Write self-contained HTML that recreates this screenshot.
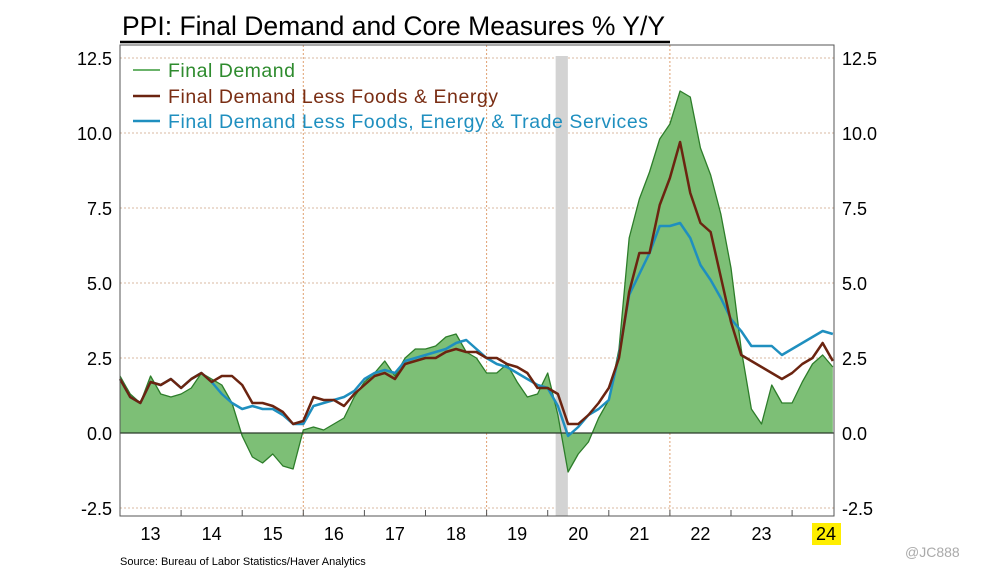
<!DOCTYPE html>
<html><head><meta charset="utf-8"><style>
body{margin:0;background:#fff;width:997px;height:575px;overflow:hidden;font-family:"Liberation Sans",sans-serif}
svg{position:absolute;left:0;top:0}
</style></head><body>
<svg id="c" width="997" height="575">
<text x="122" y="35" font-size="26.5" fill="#000">PPI: Final Demand and Core Measures % Y/Y</text>
<line x1="120" y1="42" x2="670" y2="42" stroke="#000" stroke-width="2.5"/>
<g id="grid"></g><g id="series"></g><g id="axes"></g>
<g font-size="19.5">
<line x1="133" y1="70" x2="160" y2="70" stroke="#3a9a3a" stroke-width="1.5"/>
<text x="168" y="77" fill="#2e8b2e" textLength="127">Final Demand</text>
<line x1="133" y1="96" x2="160" y2="96" stroke="#6b2410" stroke-width="2.5"/>
<text x="168" y="103" fill="#7a2e14" textLength="330">Final Demand Less Foods &amp; Energy</text>
<line x1="133" y1="121" x2="160" y2="121" stroke="#1f8fbf" stroke-width="2.5"/>
<text x="168" y="128" fill="#1f8fbf" textLength="480">Final Demand Less Foods, Energy &amp; Trade Services</text>
</g>
<text x="120" y="565" font-size="11" fill="#000">Source:  Bureau of Labor Statistics/Haver Analytics</text>
<text x="905" y="557" font-size="14" fill="#aaa">@JC888</text>
</svg>
<script>
const startYear = 2013;
const stepYears = 1/6;
const finalDemand = [1.9,1.3,1.0,1.9,1.3,1.2, 1.3,1.5,2.0,1.8,1.6,1.0, -0.1,-0.8,-1.0,-0.7,-1.1,-1.2, 0.1,0.2,0.1,0.3,0.5,1.2, 1.7,2.0,2.4,1.9,2.5,2.8, 2.8,2.9,3.2,3.3,2.7,2.5, 2.0,2.0,2.3,1.7,1.2,1.3, 2.0,0.6,-1.3,-0.7,-0.3,0.5, 1.1,2.8,6.5,7.8,8.7,9.8, 10.3,11.4,11.2,9.5,8.6,7.3, 5.5,2.8,0.8,0.3,1.6,1.0, 1.0,1.7,2.3,2.6,2.2];
const lessFoodEnergy = [1.8,1.2,1.0,1.7,1.6,1.8, 1.5,1.8,2.0,1.7,1.9,1.9, 1.6,1.0,1.0,0.9,0.7,0.3, 0.4,1.2,1.1,1.1,0.9,1.3, 1.6,1.9,2.0,1.8,2.3,2.4, 2.5,2.5,2.7,2.8,2.7,2.7, 2.5,2.5,2.3,2.2,2.0,1.5, 1.5,1.3,0.3,0.3,0.6,1.0, 1.5,2.5,4.7,6.0,6.0,7.6, 8.5,9.7,8.0,7.0,6.7,5.2, 3.7,2.6,2.4,2.2,2.0,1.8, 2.0,2.3,2.5,3.0,2.4];
const lessTrade = [1.8,1.2,1.0,1.7,1.6,1.8, 1.5,1.8,2.0,1.7,1.3,1.0, 0.8,0.9,0.8,0.8,0.6,0.3, 0.3,0.9,1.0,1.1,1.2,1.4, 1.8,2.0,2.1,2.0,2.4,2.5, 2.6,2.7,2.8,3.0,3.1,2.8, 2.5,2.3,2.2,2.0,1.8,1.6, 1.5,0.9,-0.1,0.2,0.6,0.8, 1.1,2.6,4.6,5.3,6.0,6.9, 6.9,7.0,6.5,5.6,5.1,4.5, 3.8,3.4,2.9,2.9,2.9,2.6, 2.8,3.0,3.2,3.4,3.3];
const yTicks = [12.5,10.0,7.5,5.0,2.5,0.0,-2.5];
const yearLabels = ["13","14","15","16","17","18","19","20","21","22","23","24"];
const gridYears = [2016,2019,2022];
const recession = [2020.13,2020.33];

const NS="http://www.w3.org/2000/svg";
const X0=120, X1=834, YW=61.1;
const x=t=>X0+(t-2013)*YW;
const y=v=>433-v*30;
function mk(tag,attrs,parent){const e=document.createElementNS(NS,tag);for(const k in attrs)e.setAttribute(k,attrs[k]);parent.appendChild(e);return e;}
const grid=document.getElementById('grid'),ser=document.getElementById('series'),ax=document.getElementById('axes');
yTicks.forEach(v=>{if(v===0)return;const l=mk('line',{x1:X0,x2:X1,y1:y(v),y2:y(v),stroke:'#d9b9a0','stroke-dasharray':'2,2','stroke-width':1},grid);

});
gridYears.forEach(t=>{const l=mk('line',{x1:x(t),x2:x(t),y1:45,y2:516,stroke:'#e0a070','stroke-dasharray':'2,2','stroke-width':1},grid);

});
const rb=mk('rect',{x:x(recession[0]),y:56,width:x(recession[1])-x(recession[0]),height:460,fill:'#d3d3d3'},grid);


const tx=i=>x(startYear+i*stepYears);
let d='M'+tx(0)+','+y(0);finalDemand.forEach((v,i)=>d+='L'+tx(i)+','+y(v));d+='L'+tx(finalDemand.length-1)+','+y(0)+'Z';
const area=mk('path',{d:d,fill:'#7dbf76',stroke:'none'},ser);


const line=(arr,col,w,name)=>{const p=mk('path',{d:arr.map((v,i)=>(i?'L':'M')+tx(i)+','+y(v)).join(''),fill:'none',stroke:col,'stroke-width':w,'stroke-linejoin':'round'},ser);

};
line(finalDemand,'#2d7d2a',1.3,'final-demand-line');
const z=mk('line',{x1:X0,x2:X1,y1:y(0),y2:y(0),stroke:'#2b3a2b','stroke-width':1.2},ser);


line(lessTrade,'#1f8fbf',2.5,'less-trade-line');
line(lessFoodEnergy,'#6b2410',2.5,'less-foods-energy-line');
const fr=mk('rect',{x:X0,y:45,width:X1-X0,height:471,fill:'none',stroke:'#555','stroke-width':1},ax);


yTicks.forEach(v=>{
const a=mk('text',{x:112,y:y(v)+7,'font-size':18,'text-anchor':'end',fill:'#000'},ax);a.textContent=v.toFixed(1);


const b=mk('text',{x:842,y:y(v)+7,'font-size':18,fill:'#000'},ax);b.textContent=v.toFixed(1);

});
yearLabels.forEach((s,i)=>{const t=2013+i;const cx=i===11?826:x(t+0.5);
if(i===11){const r=mk('rect',{x:812,y:523,width:29,height:22,fill:'#ffee00'},ax);

}
const e=mk('text',{x:cx,y:540,'font-size':18,'text-anchor':'middle',fill:'#000'},ax);e.textContent=s;


if(i>0){const tk=mk('line',{x1:x(t),x2:x(t),y1:510,y2:516,stroke:'#555'},ax);

}});
</script>
</body></html>
